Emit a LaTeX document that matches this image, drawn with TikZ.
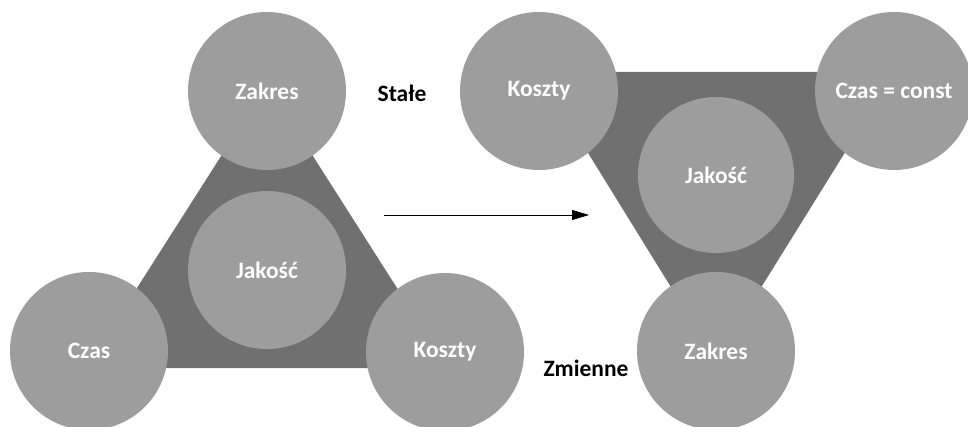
\documentclass[tikz,border=0pt]{standalone}
\usepackage{fontspec}
\setmainfont{Carlito}
\usetikzlibrary{arrows.meta}
\definecolor{ballgray}{RGB}{157,157,157}
\definecolor{trigray}{RGB}{112,112,112}
\begin{document}
\begin{tikzpicture}[x=1pt,y=-1pt,
  ball/.style={circle,fill=ballgray,minimum size=158pt,inner sep=0pt,
    text=white,font=\bfseries\fontsize{23.5}{28}\selectfont},
  lbl/.style={text=black,font=\bfseries\fontsize{23.5}{28}\selectfont},
  flow/.style={thick,-{Triangle[length=17pt,width=10pt]}}]
\useasboundingbox (0,0) rectangle (968,427);
\clip (0,0) rectangle (968,427);
% left triangle: scope, time, cost around quality
\fill[trigray] (267,84) -- (448,368) -- (86,368) -- cycle;
\node[ball] (zak1) at (267,91) {Zakres};
\node[ball] (cz1) at (89,351) {Czas};
\node[ball] (ko1) at (445,352) {Koszty};
\node[ball] (ja1) at (267,270) {Jakość};
% right triangle, inverted
\fill[trigray] (538,72) -- (895,72) -- (716,360) -- cycle;
\node[ball] (ko2) at (539,91) {Koszty};
\node[ball] (cz2) at (894,91) {Czas = const};
\node[ball] (zak2) at (716,351) {Zakres};
\node[ball,minimum size=156pt] (ja2) at (716,175) {Jakość};
% labels and transition arrow
\node[lbl] (stale) at (402,93) {Stałe};
\node[lbl] (zmienne) at (586,368) {Zmienne};
\coordinate (from) at (384,215);
\coordinate (to) at (589,215);
\draw[flow] (from) -- (to);
\end{tikzpicture}
\end{document}
